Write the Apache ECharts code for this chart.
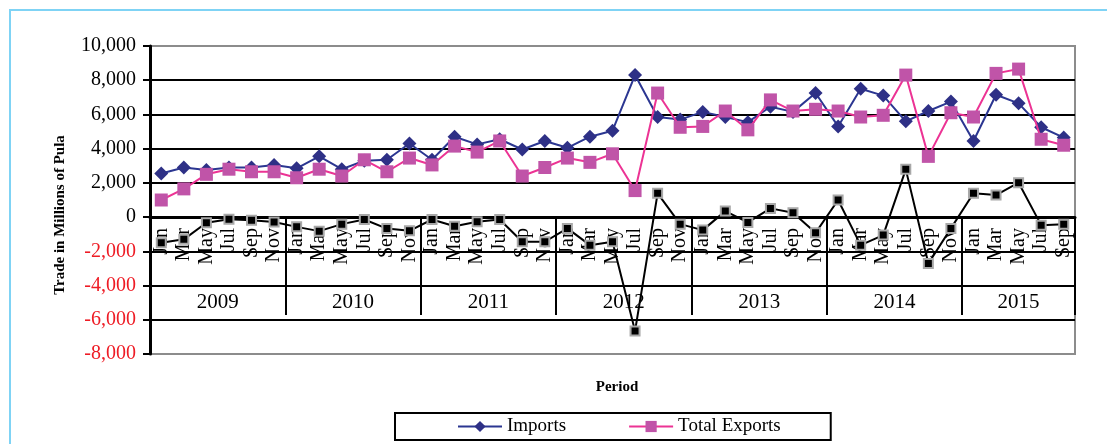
<!DOCTYPE html>
<html>
<head>
<meta charset="utf-8">
<title>Trade in Millions of Pula</title>
<script src="https://cdn.jsdelivr.net/npm/echarts@6/dist/echarts.min.js"></script>
<style>
    html, body {margin: 0; padding: 0; background: #fff;}
    #main {width: 1107px; height: 444px;}
</style>
</head>
<body>
<div id="main"></div>
<script>
    // two-monthly points, Jan 2009 - Sep 2015
    var months = [
        'Jan', 'Mar', 'May', 'Jul', 'Sep', 'Nov',
        'Jan', 'Mar', 'May', 'Jul', 'Sep', 'Nov',
        'Jan', 'Mar', 'May', 'Jul', 'Sep', 'Nov',
        'Jan', 'Mar', 'May', 'Jul', 'Sep', 'Nov',
        'Jan', 'Mar', 'May', 'Jul', 'Sep', 'Nov',
        'Jan', 'Mar', 'May', 'Jul', 'Sep', 'Nov',
        'Jan', 'Mar', 'May', 'Jul', 'Sep'
    ];
    var years = ['2009', '2010', '2011', '2012', '2013', '2014', '2015'];
    var pointsPerYear = [6, 6, 6, 6, 6, 6, 5];

    var imports = [
        2550, 2900, 2750, 2900, 2900, 3050,
        2850, 3550, 2800, 3300, 3350, 4300,
        3350, 4700, 4250, 4550, 3950, 4450,
        4050, 4700, 5050, 8300, 5850, 5700,
        6150, 5850, 5550, 6450, 6150, 7250,
        5300, 7500, 7100, 5600, 6200, 6750,
        4450, 7150, 6650, 5250, 4650
    ];
    var exports = [
        1000, 1650, 2500, 2800, 2650, 2650,
        2300, 2800, 2400, 3350, 2650, 3450,
        3050, 4150, 3800, 4450, 2400, 2900,
        3450, 3200, 3700, 1550, 7250, 5250,
        5300, 6200, 5100, 6850, 6200, 6300,
        6200, 5850, 5950, 8300, 3550, 6100,
        5850, 8400, 8650, 4550, 4200
    ];
    var balance = [
        -1500, -1300, -330, -120, -180, -290,
        -570, -820, -410, -140, -670, -800,
        -140, -530, -270, -140, -1440, -1440,
        -660, -1640, -1440, -6650, 1390, -410,
        -760, 350, -310, 510, 250, -920,
        1000, -1640, -1050, 2790, -2710, -660,
        1390, 1290, 2010, -470, -410
    ];

    var serif = '"Liberation Serif", "Times New Roman", serif';

    // where each year starts / is centred on the category axis
    var yearStart = {};
    var yearCenter = [];
    var pos = 0;
    years.forEach(function (y, i) {
        yearStart[pos] = true;
        yearCenter.push({v: pos + (pointsPerYear[i] - 1) / 2, name: y});
        pos += pointsPerYear[i];
    });
    yearStart[pos] = true;

    (function (charts) {
        window.addEventListener("resize", function () {
            charts.resize()
        });
        charts.setOption({
            animation: false,
            textStyle: {fontFamily: serif},
            title: {
                text: 'Period',
                left: 612,
                top: 375,
                textAlign: 'center',
                textStyle: {fontFamily: serif, fontSize: 15, fontWeight: 'bold', color: '#000'}
            },
            legend: {
                data: ['Imports', 'Total Exports'],
                left: 395,
                top: 413,
                padding: [4, 50, 4, 62],
                itemGap: 62,
                itemWidth: 44,
                itemHeight: 14,
                borderColor: '#000',
                borderWidth: 2,
                textStyle: {fontFamily: serif, fontSize: 19, color: '#000'}
            },
            graphic: [
                {
                    type: 'rect',
                    z: -10,
                    shape: {x: 10, y: 10, width: 1200, height: 600},
                    style: {fill: 'none', stroke: '#7fd3f5', lineWidth: 2}
                },
                {
                    type: 'text',
                    x: 60,
                    y: 215,
                    rotation: Math.PI / 2,
                    style: {
                        text: 'Trade in Millions of Pula',
                        font: 'bold 15px ' + serif,
                        fill: '#000',
                        textAlign: 'center',
                        textVerticalAlign: 'middle'
                    }
                }
            ],
            grid: [
                {
                    // data area
                    left: 150,
                    right: 32,
                    top: 46,
                    bottom: 90,
                    show: true,
                    borderColor: '#8c8c8c',
                    borderWidth: 2
                },
                {
                    // strip that only carries the year labels
                    left: 150,
                    right: 32,
                    top: 280,
                    height: 10,
                    show: false
                },
                {
                    // upper half, its bottom edge is the zero line where the months sit
                    left: 150,
                    right: 32,
                    top: 46,
                    height: 171,
                    show: false
                }
            ],
            xAxis: [
                {
                    type: 'category',
                    gridIndex: 0,
                    data: months,
                    show: false
                },
                {
                    type: 'value',
                    gridIndex: 1,
                    min: -0.5,
                    max: months.length - 0.5,
                    interval: 0.5,
                    position: 'bottom',
                    axisLine: {show: false, onZero: false},
                    axisTick: {show: false},
                    splitLine: {show: false},
                    axisLabel: {
                        margin: 2,
                        fontSize: 21,
                        color: '#000',
                        fontFamily: serif,
                        formatter: function (v) {
                            for (var i = 0; i < yearCenter.length; i++) {
                                if (Math.abs(yearCenter[i].v - v) < 0.01) return yearCenter[i].name;
                            }
                            return '';
                        }
                    }
                },
                {
                    type: 'category',
                    gridIndex: 2,
                    data: months,
                    position: 'bottom',
                    axisLine: {show: true, onZero: false, lineStyle: {color: '#000', width: 3}},
                    axisTick: {
                        show: true,
                        interval: function (index) {
                            return !!yearStart[index];
                        },
                        length: 98,
                        lineStyle: {color: '#000', width: 2}
                    },
                    axisLabel: {
                        interval: 0,
                        rotate: 90,
                        margin: 11,
                        fontSize: 20,
                        color: '#000',
                        fontFamily: serif
                    },
                    splitLine: {show: false}
                }
            ],
            yAxis: [
                {
                    type: 'value',
                    gridIndex: 0,
                    min: -8000,
                    max: 10000,
                    interval: 2000,
                    axisLine: {show: true, onZero: false, lineStyle: {color: '#000', width: 3}},
                    axisTick: {show: true, length: 7, lineStyle: {color: '#000', width: 2}},
                    axisLabel: {
                        margin: 14,
                        fontSize: 20,
                        fontFamily: serif,
                        color: function (value) {
                            return value < 0 ? '#ee1c25' : '#000';
                        },
                        formatter: function (v) {
                            return v.toLocaleString('en-US');
                        }
                    },
                    splitLine: {
                        lineStyle: {
                            color: ['#8c8c8c', '#000', '#000', '#000', '#000', '#000', '#000', '#000', '#000', '#8c8c8c'],
                            width: 2
                        }
                    }
                },
                {type: 'value', gridIndex: 1, show: false},
                {type: 'value', gridIndex: 2, show: false}
            ],
            series: [
                {
                    name: 'Imports',
                    type: 'line',
                    data: imports,
                    symbol: 'diamond',
                    symbolSize: 14,
                    lineStyle: {color: '#2b3691', width: 2},
                    itemStyle: {color: '#2e3086'},
                    z: 3
                },
                {
                    name: 'Total Exports',
                    type: 'line',
                    data: exports,
                    symbol: 'rect',
                    symbolSize: 13,
                    lineStyle: {color: '#ec3394', width: 2},
                    itemStyle: {color: '#c054a8'},
                    z: 4
                },
                {
                    name: 'Trade Balance',
                    type: 'line',
                    data: balance,
                    symbol: 'rect',
                    symbolSize: 9,
                    lineStyle: {color: '#000', width: 2},
                    itemStyle: {color: '#000', borderColor: '#a8a8a8', borderWidth: 2},
                    z: 5
                }
            ]
        });
    })(echarts.init(document.getElementById('main')));
</script>
</body>
</html>
